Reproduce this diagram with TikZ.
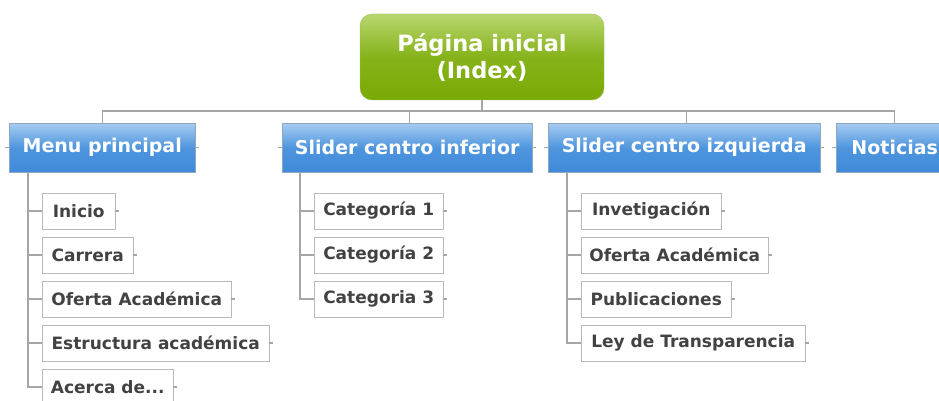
\documentclass[tikz,border=0pt]{standalone}
\usepackage{fontspec}
\setmainfont{DejaVu Sans}
\usetikzlibrary{positioning}
\definecolor{IndexGreenTop}{HTML}{B8D670}
\definecolor{IndexGreenBot}{HTML}{7AAA04}
\definecolor{IndexGreenLine}{HTML}{A0BC58}
\definecolor{TopicBlueTop}{HTML}{A6CCF2}
\definecolor{TopicBlueBot}{HTML}{3F8BDA}
\definecolor{TopicLine}{HTML}{8FA6C0}
\definecolor{LeafLine}{HTML}{B9B9B9}
\definecolor{LeafText}{HTML}{424242}
\definecolor{LinkGray}{HTML}{A6A6A6}

\begin{document}
\begin{tikzpicture}[x=1pt, y=-1pt,
    root/.style={draw=IndexGreenLine, rounded corners=12pt, top color=IndexGreenTop,
      bottom color=IndexGreenBot, middle color=IndexGreenBot!80!IndexGreenTop,
      text=white, font=\fontsize{22.5}{27}\selectfont\bfseries, align=center,
      minimum width=244pt, minimum height=86pt, inner sep=0pt},
    topic/.style={draw=TopicLine, top color=TopicBlueTop, bottom color=TopicBlueBot,
      middle color=TopicBlueBot!85!TopicBlueTop, text=white,
      font=\fontsize{19}{21}\selectfont\bfseries, minimum height=49pt, inner sep=0pt,
      anchor=north west},
    leaf/.style={draw=LeafLine, fill=white, text=LeafText,
      font=\fontsize{17}{19}\selectfont\bfseries, minimum height=36pt, inner sep=0pt,
      anchor=west},
    link/.style={draw=LinkGray, line width=1.2pt}]
\useasboundingbox (0,0) rectangle (939,401);
\clip (0,0) rectangle (939,401);

% Root
\node[root] (index) at (482,57) {Página inicial\\(Index)};

% Main sections
\node[topic, minimum width=186pt] (menu) at (9,123) {Menu principal};
\node[topic, minimum width=250pt] (inferior) at (282,123) {Slider centro inferior};
\node[topic, minimum width=272pt] (izquierda) at (548,123) {Slider centro izquierda};
\node[topic, minimum width=117pt] (noticias) at (836,123) {Noticias};

% Bar from the root
\coordinate (bar) at (482,111);
\draw[link] (index.south) -- (bar);
\draw[link] (bar) -| (menu.north);
\draw[link] (bar) -| ([xshift=2pt]inferior.north);
\draw[link] (bar) -| ([xshift=2pt]izquierda.north);
\draw[link] (bar) -| (noticias.north);

% Side stubs of the sections
\draw[link] (menu.west) -- ++(-4,0);
\draw[link] (menu.east) -- ++(4,0);
\draw[link] (inferior.west) -- ++(-4,0);
\draw[link] (inferior.east) -- ++(4,0);
\draw[link] (izquierda.west) -- ++(-4,0);
\draw[link] (izquierda.east) -- ++(4,0);
\draw[link] (noticias.west) -- ++(-4,0);

% Menu principal
\node[leaf, minimum width=73pt] (inicio) at (42,211) {Inicio};
\node[leaf, minimum width=91pt] (carrera) at (42,255) {Carrera};
\node[leaf, minimum width=189pt] (oferta) at (42,299) {Oferta Académica};
\node[leaf, minimum width=227pt] (estructura) at (42,343) {Estructura académica};
\node[leaf, minimum width=131pt] (acerca) at (42,387) {Acerca de...};
\draw[link] ([xshift=19pt]menu.south west) |- (acerca.west);
\foreach \n in {inicio, carrera, oferta, estructura}
  \draw[link] (\n.west) -- ++(-14,0);

% Slider centro inferior
\node[leaf, minimum width=129pt] (cat1) at (314,211) {Categoría 1};
\node[leaf, minimum width=129pt] (cat2) at (314,255) {Categoría 2};
\node[leaf, minimum width=129pt] (cat3) at (314,299) {Categoria 3};
\draw[link] ([xshift=18pt]inferior.south west) |- (cat3.west);
\foreach \n in {cat1, cat2}
  \draw[link] (\n.west) -- ++(-14,0);

% Slider centro izquierda
\node[leaf, minimum width=140pt] (invest) at (581,211) {Invetigación};
\node[leaf, minimum width=187pt] (oferta2) at (581,255) {Oferta Académica};
\node[leaf, minimum width=150pt] (public) at (581,299) {Publicaciones};
\node[leaf, minimum width=224pt] (ley) at (581,343) {Ley de Transparencia};
\draw[link] ([xshift=19pt]izquierda.south west) |- (ley.west);
\foreach \n in {invest, oferta2, public}
  \draw[link] (\n.west) -- ++(-14,0);

% Right stubs of the leaves
\foreach \n in {inicio, carrera, oferta, estructura, acerca, cat1, cat2, cat3,
    invest, oferta2, public, ley}
  \draw[link] (\n.east) -- ++(4,0);
\end{tikzpicture}
\end{document}
